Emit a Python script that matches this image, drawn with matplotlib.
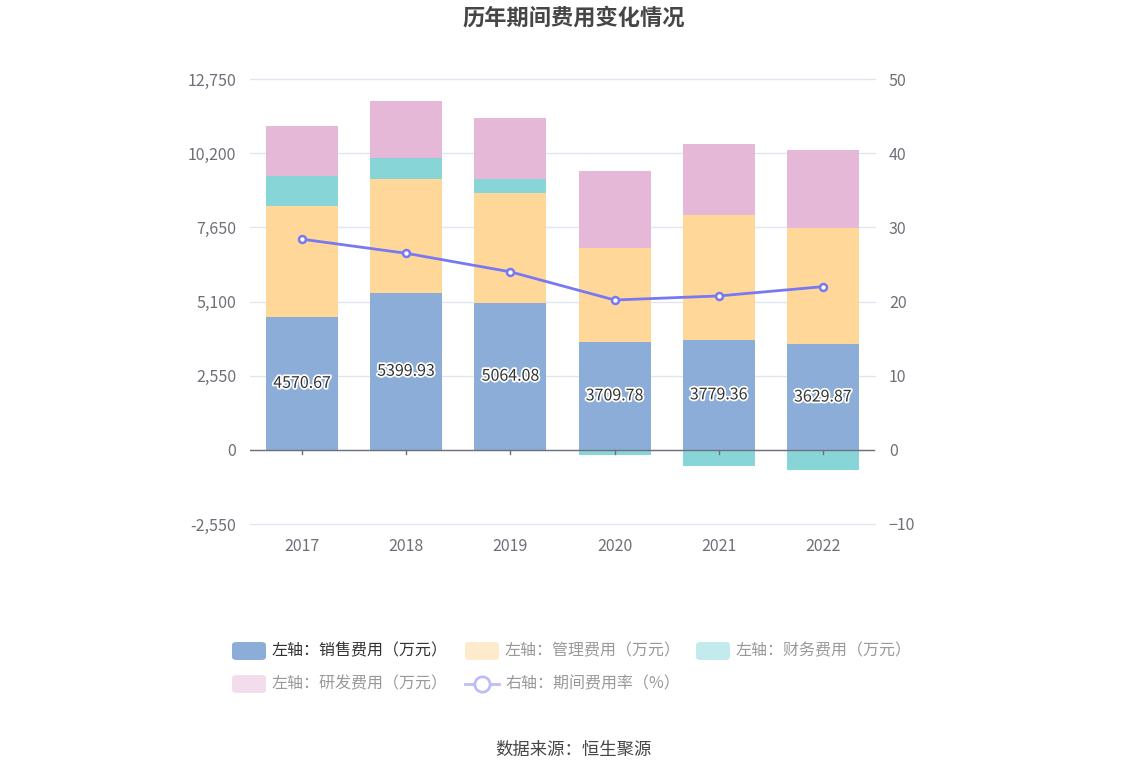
import matplotlib.pyplot as plt
import matplotlib.patheffects as pe
from matplotlib.patches import FancyBboxPatch
from matplotlib.lines import Line2D
import numpy as np

plt.rcParams['font.family'] = ['Noto Sans CJK SC', 'DejaVu Sans']

# data (万元 / %)
years = ['2017', '2018', '2019', '2020', '2021', '2022']
sales = [4570.67, 5399.93, 5064.08, 3709.78, 3779.36, 3629.87]
admin = [3815, 3914, 3769, 3233, 4298, 4000]
finance = [1031, 722, 481, -172, -550, -687]
rnd = [1719, 1959, 2097, 2646, 2440, 2681]
rate = [28.4, 26.5, 24.0, 20.2, 20.75, 22.0]

c_sales = '#8DADD9'
c_admin = '#FFD899'
c_fin = '#88D5D8'
c_rnd = '#E6B8D8'
c_line = '#7878F2'

fig = plt.figure(figsize=(11.48, 7.76), dpi=100)
ax = fig.add_axes([250 / 1148, 1 - 524 / 776, 625 / 1148, 445 / 776])
ax2 = ax.twinx()

x = np.arange(len(years))
w = 0.69

sales = np.array(sales)
admin = np.array(admin)
finance = np.array(finance)
rnd = np.array(rnd)

# positive and negative values stack separately (echarts style)
pos_base = np.zeros(len(x))
neg_base = np.zeros(len(x))
for vals, col in [(sales, c_sales), (admin, c_admin), (finance, c_fin), (rnd, c_rnd)]:
    base = np.where(vals >= 0, pos_base, neg_base)
    ax.bar(x, vals, w, bottom=base, color=col, zorder=2)
    pos_base = pos_base + np.where(vals >= 0, vals, 0)
    neg_base = neg_base + np.where(vals < 0, vals, 0)

for xi, v in zip(x, sales):
    ax.text(xi, v / 2, f'{v:.2f}', ha='center', va='center', fontsize=11.5,
            color='#333333', zorder=5,
            path_effects=[pe.withStroke(linewidth=2.5, foreground='white')])

ax.set_xlim(-0.5, len(x) - 0.5)
ax.set_ylim(-2550, 12750)
ticks = [-2550, 0, 2550, 5100, 7650, 10200, 12750]
ax.set_yticks(ticks)
ax.set_yticklabels([f'{t:,}' for t in ticks])
for t in ticks:
    ax.axhline(t, color='#E0E6F1', linewidth=1, zorder=0, clip_on=False)
ax.axhline(0, color='#6E7079', linewidth=1, zorder=3)
for xi in x:
    ax.plot([xi, xi], [0, -160], color='#6E7079', linewidth=1, zorder=3, clip_on=False)

ax.set_xticks(x)
ax.set_xticklabels(years)
ax.tick_params(axis='x', length=0, pad=10, labelsize=11.5, labelcolor='#6E7079')
ax.tick_params(axis='y', length=0, pad=10, labelsize=11.5, labelcolor='#6E7079')
for s in ax.spines.values():
    s.set_visible(False)

ax2.plot(x, rate, color=c_line, linewidth=2, marker='o', markersize=5,
         markerfacecolor='white', markeredgecolor=c_line, markeredgewidth=1.8, zorder=4)
ax2.set_ylim(-10, 50)
ax2.set_yticks([-10, 0, 10, 20, 30, 40, 50])
ax2.tick_params(axis='y', length=0, pad=10, labelsize=11.5, labelcolor='#6E7079')
for s in ax2.spines.values():
    s.set_visible(False)

fig.text(0.5, 1 - 18 / 776, '历年期间费用变化情况', ha='center', va='center',
         fontsize=16, fontweight='bold', color='#464646')
fig.text(0.5, 1 - 750 / 776, '数据来源：恒生聚源', ha='center', va='center',
         fontsize=12.5, color='#464646')

# legend drawn by hand
def swatch(px, py, col):
    fig.patches.append(FancyBboxPatch((px / 1148, 1 - (py + 9) / 776), 34 / 1148, 18 / 776,
                                      boxstyle='round,pad=0,rounding_size=0.004',
                                      transform=fig.transFigure, facecolor=col,
                                      edgecolor='none'))

items = [
    (232, 651, '#8DADD9', '左轴：销售费用（万元）', '#333333'),
    (465, 651, '#FFEBCC', '左轴：管理费用（万元）', '#999999'),
    (696, 651, '#C3EAEC', '左轴：财务费用（万元）', '#999999'),
    (232, 684, '#F3DCEC', '左轴：研发费用（万元）', '#999999'),
]
for px, py, col, lab, tc in items:
    swatch(px, py, col)
    fig.text((px + 40) / 1148, 1 - py / 776, lab, ha='left', va='center',
             fontsize=11.5, color=tc)

ly = 1 - 684 / 776
fig.lines.append(Line2D([465 / 1148, 499 / 1148], [ly, ly], transform=fig.transFigure,
                        color='#BDBDF8', linewidth=2))
fig.lines.append(Line2D([482 / 1148], [ly], transform=fig.transFigure, marker='o',
                        markersize=11, markerfacecolor='white', markeredgecolor='#BDBDF8',
                        markeredgewidth=2))
fig.text(505 / 1148, ly, '右轴：期间费用率（%）', ha='left', va='center',
         fontsize=11.5, color='#999999')

fig.savefig('out.png', dpi=100)
